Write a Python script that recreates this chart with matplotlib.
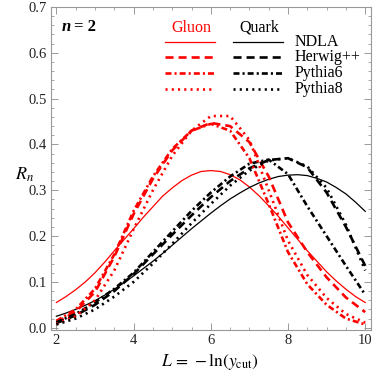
import matplotlib
matplotlib.use('Agg')
from matplotlib import pyplot as plt
from matplotlib.lines import Line2D
from matplotlib.ticker import MultipleLocator, FormatStrFormatter

L = [2.0, 2.5, 3.0, 3.5, 4.0, 4.5, 5.0, 5.5, 6.0, 6.5, 7.0, 7.5, 8.0, 8.5, 9.0, 9.5, 10.0]
# finer grid for the smooth NDLA curves
L_ndla = [2.0, 2.25, 2.5, 2.75, 3.0, 3.25, 3.5, 3.75, 4.0, 4.25, 4.5, 4.75, 5.0, 5.25, 5.5, 5.75,
          6.0, 6.25, 6.5, 6.75, 7.0, 7.25, 7.5, 7.75, 8.0, 8.25, 8.5, 8.75, 9.0, 9.25, 9.5, 9.75, 10.0]

gluon_ndla = [0.055, 0.068, 0.083, 0.100, 0.120, 0.143, 0.168, 0.192, 0.216, 0.241, 0.264,
              0.287, 0.305, 0.321, 0.333, 0.341, 0.343, 0.341, 0.334, 0.323, 0.307, 0.288,
              0.266, 0.243, 0.218, 0.193, 0.168, 0.145, 0.122, 0.102, 0.084, 0.068, 0.055]
gluon_herwig = [0.012, 0.035, 0.078, 0.155, 0.248, 0.325, 0.387, 0.430, 0.447, 0.440,
                0.405, 0.330, 0.230, 0.165, 0.110, 0.066, 0.034]
gluon_pythia6 = [0.015, 0.040, 0.085, 0.160, 0.255, 0.330, 0.390, 0.430, 0.445, 0.430,
                 0.370, 0.270, 0.165, 0.095, 0.050, 0.020, 0.007]
gluon_pythia8 = [0.008, 0.025, 0.060, 0.125, 0.215, 0.300, 0.375, 0.430, 0.462, 0.462,
                 0.410, 0.300, 0.190, 0.115, 0.065, 0.030, 0.011]

quark_ndla = [0.025, 0.032, 0.040, 0.049, 0.059, 0.071, 0.084, 0.098, 0.113, 0.129, 0.145,
              0.162, 0.180, 0.198, 0.216, 0.233, 0.250, 0.266, 0.281, 0.294, 0.306, 0.316,
              0.324, 0.330, 0.333, 0.334, 0.332, 0.326, 0.318, 0.306, 0.292, 0.274, 0.254]
quark_herwig = [0.010, 0.027, 0.050, 0.080, 0.117, 0.160, 0.203, 0.245, 0.285, 0.320,
                0.348, 0.366, 0.370, 0.350, 0.295, 0.220, 0.135]
quark_pythia6 = [0.012, 0.030, 0.055, 0.085, 0.120, 0.165, 0.210, 0.255, 0.295, 0.330,
                 0.358, 0.367, 0.335, 0.265, 0.200, 0.135, 0.072]
quark_pythia8 = [0.007, 0.020, 0.040, 0.068, 0.100, 0.140, 0.183, 0.228, 0.270, 0.310,
                 0.343, 0.365, 0.370, 0.352, 0.305, 0.225, 0.125]

generators = ['NDLA', 'Herwig++', 'Pythia6', 'Pythia8']

plt.rcParams['font.family'] = ['Liberation Serif', 'DejaVu Serif']
plt.rcParams['mathtext.fontset'] = 'stix'
plt.rcParams['lines.scale_dashes'] = False

RED = '#ff0000'
styles = {
    'NDLA': dict(ls='-', lw=0.9),
    'Herwig++': dict(ls=(0, (5.8, 3.6)), lw=1.9),
    'Pythia6': dict(ls=(0, (4.3, 2.2, 1.5, 2.2)), lw=1.9),
    'Pythia8': dict(ls=(0, (1.5, 3.0)), lw=1.9),
}

fig = plt.figure(figsize=(3.74, 3.76), dpi=100)
ax = fig.add_axes([51 / 374, 46 / 376, 320 / 374, 323 / 376])

ax.plot(L_ndla, gluon_ndla, color=RED, **styles['NDLA'])
ax.plot(L_ndla, quark_ndla, color='black', **styles['NDLA'])
gluon = [gluon_herwig, gluon_pythia6, gluon_pythia8]
quark = [quark_herwig, quark_pythia6, quark_pythia8]
for name, g, q in zip(generators[1:], gluon, quark):
    ax.plot(L, g, color=RED, **styles[name])
    ax.plot(L, q, color='black', **styles[name])

ax.set_xlim(1.86, 10.15)
ax.set_ylim(-0.005, 0.70)
ax.xaxis.set_major_locator(MultipleLocator(2))
ax.xaxis.set_minor_locator(MultipleLocator(0.5))
ax.yaxis.set_major_locator(MultipleLocator(0.1))
ax.yaxis.set_minor_locator(MultipleLocator(0.02))
ax.yaxis.set_major_formatter(FormatStrFormatter('%.1f'))
ax.tick_params(which='both', direction='in', top=True, right=True,
               color='#999999', labelsize=10.5, labelcolor='#222222')
ax.tick_params(which='major', length=5, width=0.7, pad=3)
ax.tick_params(which='minor', length=2.5, width=0.6)
for sp in ax.spines.values():
    sp.set_color('#999999')
    sp.set_linewidth(0.8)

# legend drawn by hand, Mathematica style
ax.text(0.034, 0.938, 'n', transform=ax.transAxes, fontsize=12,
        fontweight='bold', fontstyle='italic', va='center', ha='left')
ax.text(0.072, 0.938, '= 2', transform=ax.transAxes, fontsize=12,
        fontweight='bold', va='center', ha='left')
ax.text(0.4375, 0.935, 'Gluon', color=RED, transform=ax.transAxes,
        fontsize=11.5, ha='center', va='center')
ax.text(0.65, 0.935, 'Quark', color='black', transform=ax.transAxes,
        fontsize=11.5, ha='center', va='center')
rows = [0.893, 0.844, 0.796, 0.746]
for name, yy in zip(generators, rows):
    ax.add_line(Line2D([0.356, 0.513], [yy, yy], color=RED, transform=ax.transAxes, **styles[name]))
    ax.add_line(Line2D([0.569, 0.725], [yy, yy], color='black', transform=ax.transAxes, **styles[name]))
    ax.text(0.7625, yy, name, transform=ax.transAxes, fontsize=11.5, va='center', ha='left')

fig.text(0.067, 0.535, r'$R_n$', fontsize=13, ha='center', va='center')
fig.text(0.561, 0.038, r'$L\,=\,-\ln(y_{\rm cut})$', fontsize=12.5, ha='center', va='center')

fig.savefig('out.png', dpi=100)
